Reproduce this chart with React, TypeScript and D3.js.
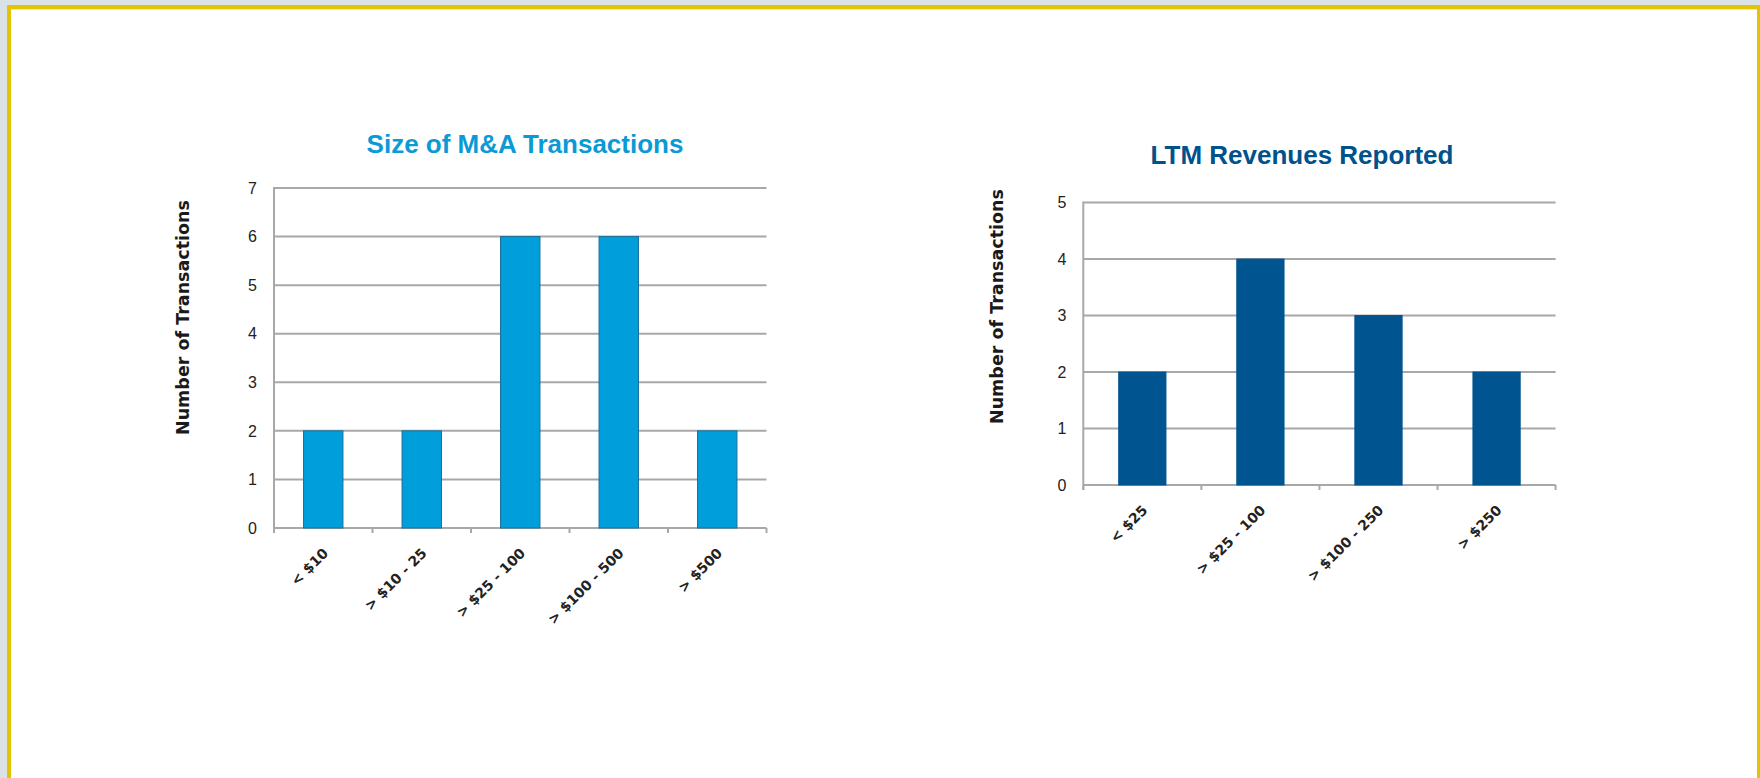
import React from "react";
import * as d3 from "d3";

const sizeCategories = ["< $10", "> $10 - 25", "> $25 - 100", "> $100 - 500", "> $500"];
const sizeValues = [2, 2, 6, 6, 2];
const sizeTicks = [0, 1, 2, 3, 4, 5, 6, 7];

const ltmCategories = ["< $25", "> $25 - 100", "> $100 - 250", "> $250"];
const ltmValues = [2, 4, 3, 2];
const ltmTicks = [0, 1, 2, 3, 4, 5];

const W = 1760;
const H = 778;

type ChartProps = {
  title: string;
  titleColor: string;
  titleX: number;
  titleY: number;
  categories: string[];
  values: number[];
  ticks: number[];
  x0: number;
  x1: number;
  yTop: number;
  yBottom: number;
  barColor: string;
  barStroke: string;
  yTitleX: number;
  yTitleY: number;
};

function BarChart(p: ChartProps) {
  const x = d3
    .scaleBand<string>()
    .domain(p.categories)
    .range([p.x0, p.x1])
    .paddingInner(0.6)
    .paddingOuter(0.3);
  const maxT = d3.max(p.ticks) as number;
  const y = d3.scaleLinear().domain([0, maxT]).range([p.yBottom, p.yTop]);
  const step = x.step();
  const bounds = d3.range(p.categories.length + 1).map((i) => p.x0 + i * step);
  const grid = "#a8a8a8";
  return (
    <g>
      <text
        x={p.titleX}
        y={p.titleY}
        textAnchor="middle"
        fontFamily="'Liberation Sans', Arial, sans-serif"
        fontWeight="bold"
        fontSize={26}
        fill={p.titleColor}
      >
        {p.title}
      </text>
      {p.ticks.map((t) => (
        <line key={"g" + t} x1={p.x0} x2={p.x1} y1={y(t)} y2={y(t)} stroke={grid} strokeWidth={2} />
      ))}
      {p.categories.map((c, i) => (
        <rect
          key={c}
          x={x(c)}
          y={y(p.values[i])}
          width={x.bandwidth()}
          height={y(0) - y(p.values[i])}
          fill={p.barColor}
          stroke={p.barStroke}
          strokeWidth={1}
        />
      ))}
      <line x1={p.x0} x2={p.x0} y1={p.yTop - 1} y2={p.yBottom + 5} stroke={grid} strokeWidth={2} />
      {bounds.map((b, i) => (
        <line key={"t" + i} x1={b} x2={b} y1={p.yBottom} y2={p.yBottom + 5} stroke={grid} strokeWidth={2} />
      ))}
      {p.ticks.map((t) => (
        <text
          key={"l" + t}
          x={p.x0 - 17}
          y={y(t)}
          dy="0.36em"
          textAnchor="end"
          fontFamily="'Liberation Sans', Arial, sans-serif"
          fontSize={16}
          fill="#222"
        >
          {t}
        </text>
      ))}
      {p.categories.map((c) => {
        const cx = (x(c) as number) + x.bandwidth() / 2 + 6;
        const cy = p.yBottom + 26;
        return (
          <text
            key={"x" + c}
            transform={`translate(${cx},${cy}) rotate(-45)`}
            textAnchor="end"
            fontFamily="'DejaVu Sans', sans-serif"
            fontWeight="bold"
            fontSize={14}
            fill="#222"
          >
            {c}
          </text>
        );
      })}
      <text
        transform={`translate(${p.yTitleX},${p.yTitleY}) rotate(-90)`}
        textAnchor="middle"
        dy="0.36em"
        fontFamily="'DejaVu Sans', sans-serif"
        fontWeight="bold"
        fontSize={17.5}
        textLength={235}
        lengthAdjust="spacing"
        fill="#1a1a1a"
      >
        Number of Transactions
      </text>
    </g>
  );
}

export default function App() {
  return (
    <svg
      width={W}
      height={H}
      style={{ position: "absolute", left: 0, top: 0, display: "block" }}
    >
      <rect x={0} y={0} width={W} height={H} fill="#dbe2e5" />
      <rect x={7} y={5} width={W - 7} height={H - 5} fill="#e2c500" />
      <rect x={11} y={9} width={W - 11 - 3} height={H - 9} fill="#ffffff" />
      <line x1={11} x2={W - 3} y1={9.5} y2={9.5} stroke="#f6ec9c" strokeWidth={1} />
      <BarChart
        title="Size of M&A Transactions"
        titleColor="#0a9ad6"
        titleX={525}
        titleY={152.5}
        categories={sizeCategories}
        values={sizeValues}
        ticks={sizeTicks}
        x0={274}
        x1={766.5}
        yTop={188}
        yBottom={528}
        barColor="#009fdb"
        barStroke="#1b6e98"
        yTitleX={183}
        yTitleY={317.5}
      />
      <BarChart
        title="LTM Revenues Reported"
        titleColor="#00528c"
        titleX={1302}
        titleY={164}
        categories={ltmCategories}
        values={ltmValues}
        ticks={ltmTicks}
        x0={1083.3}
        x1={1555.6}
        yTop={202.6}
        yBottom={485}
        barColor="#00548f"
        barStroke="#00548f"
        yTitleX={997}
        yTitleY={306.5}
      />
    </svg>
  );
}
